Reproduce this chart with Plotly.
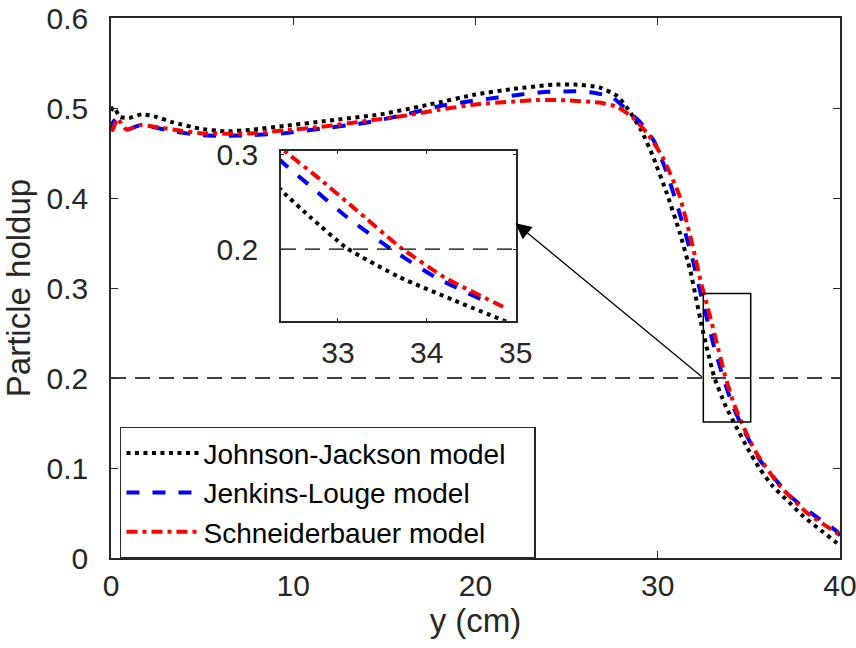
import plotly.graph_objects as go

# Johnson-Jackson model (black, dotted)
x_jj = [0, 0.15, 0.5, 1.0, 1.7, 2.5, 3.4, 4.9, 6.3, 7.8, 9.5, 12, 14.8, 17.5, 20,
        22, 24.3, 25.5, 26.8, 27.8, 28.5, 29.1, 29.7, 30.5, 31.2, 31.8, 32.4, 32.7,
        33.1, 33.7, 34.3, 34.9, 35.6, 36.3, 37.2, 38, 39, 39.8, 40]
y_jj = [0.497, 0.501, 0.490, 0.489, 0.493, 0.490, 0.484, 0.477, 0.474, 0.476, 0.480,
        0.486, 0.493, 0.504, 0.515, 0.521, 0.526, 0.526, 0.523, 0.513, 0.495, 0.475,
        0.448, 0.405, 0.362, 0.318, 0.259, 0.233, 0.201, 0.170, 0.146, 0.123, 0.099,
        0.080, 0.062, 0.046, 0.030, 0.017, 0.013]

# Jenkins-Louge model (blue, dashed)
x_jl = [0, 0.15, 0.4, 0.9, 1.6, 2.5, 3.4, 4.9, 6.3, 7.8, 9.5, 11.5, 13.8, 16, 18,
        19.5, 21, 22.5, 24, 25.5, 26.5, 27.5, 28.3, 29, 29.8, 30.5, 31.2, 31.9, 32.4,
        32.7, 33.1, 33.6, 34.1, 34.7, 35.6, 36.3, 37.1, 38, 38.9, 39.8, 40]
y_jl = [0.476, 0.486, 0.479, 0.476, 0.481, 0.478, 0.474, 0.470, 0.469, 0.470, 0.472,
        0.477, 0.483, 0.492, 0.502, 0.507, 0.511, 0.515, 0.518, 0.5185, 0.517, 0.512,
        0.498, 0.485, 0.463, 0.428, 0.383, 0.333, 0.290, 0.266, 0.234, 0.200, 0.170,
        0.143, 0.109, 0.091, 0.072, 0.056, 0.043, 0.030, 0.025]

# Schneiderbauer model (red, dash-dot)
x_sb = [0, 0.1, 0.35, 0.85, 1.6, 2.5, 3.4, 4.9, 6.3, 7.8, 9.5, 11.5, 13.8, 16, 18,
        20, 22, 23.5, 25, 26.8, 27.8, 28.6, 29.5, 30.3, 31.2, 31.9, 32.4, 32.8, 33.2,
        33.7, 34.2, 34.9, 35.4, 36.7, 38.2, 39.8, 40]
y_sb = [0.475, 0.476, 0.488, 0.476, 0.481, 0.479, 0.476, 0.472, 0.4715, 0.472, 0.475,
        0.479, 0.485, 0.491, 0.498, 0.504, 0.507, 0.509, 0.5085, 0.506, 0.501, 0.490,
        0.470, 0.444, 0.402, 0.348, 0.304, 0.274, 0.242, 0.202, 0.170, 0.137, 0.117,
        0.080, 0.050, 0.028, 0.025]

names = ["Johnson-Jackson model", "Jenkins-Louge model", "Schneiderbauer model"]
colors = ["#000000", "#0000ff", "#ff0000"]
dashes = ["4px,4.5px", "13px,13px", "11px,5px,4px,5px"]
series = [(x_jj, y_jj), (x_jl, y_jl), (x_sb, y_sb)]

holdup_ref = 0.2
main_x = [0, 40]
main_y = [0, 0.6]
inset_x = [32.36, 35]
inset_y = [0.124, 0.304]
inset_last = 34.9
zoom_box = [32.5, 35.1, 0.151, 0.294]

fnt = "Liberation Sans, Arial, Helvetica, sans-serif"
axcol = "#262626"
pad = "\u00a0" * 3   # a little room on the right of the legend text, like the original box

fig = go.Figure()

for (xs, ys), nm, c, d in zip(series, names, colors, dashes):
    fig.add_trace(go.Scatter(x=xs, y=ys, mode="lines", name=nm + pad,
                             line=dict(color=c, width=4, dash=d, shape="spline", smoothing=0.5),
                             xaxis="x", yaxis="y"))

# reference line in main axes
fig.add_trace(go.Scatter(x=main_x, y=[holdup_ref, holdup_ref], mode="lines",
                         line=dict(color="black", width=1.3, dash="15px,9px"),
                         showlegend=False, hoverinfo="skip", xaxis="x", yaxis="y"))

# inset: same data, zoomed
for (xs, ys), c, d in zip(series, colors, dashes):
    xi = [a for a in xs if a >= 31 and a <= inset_last]
    yi = [b for a, b in zip(xs, ys) if a >= 31 and a <= inset_last]
    fig.add_trace(go.Scatter(x=xi, y=yi, mode="lines", showlegend=False,
                             line=dict(color=c, width=4, dash=d, shape="spline", smoothing=0.5),
                             xaxis="x2", yaxis="y2"))
fig.add_trace(go.Scatter(x=inset_x, y=[holdup_ref, holdup_ref], mode="lines",
                         line=dict(color="black", width=1.3, dash="15px,9px"),
                         showlegend=False, hoverinfo="skip", xaxis="x2", yaxis="y2"))

# rectangle around the zoomed region
fig.add_shape(type="rect", xref="x", yref="y",
              x0=zoom_box[0], x1=zoom_box[1], y0=zoom_box[2], y1=zoom_box[3],
              line=dict(color="black", width=1.5), layer="above")

# arrow from box to inset
fig.add_annotation(x=22.2, y=0.372, ax=zoom_box[0], ay=holdup_ref,
                   xref="x", yref="y", axref="x", ayref="y",
                   showarrow=True, arrowhead=2, arrowsize=2.4, arrowwidth=1.3,
                   arrowcolor="black", text="")

axis_common = dict(showline=True, linecolor=axcol, linewidth=1.5, mirror="ticks",
                   ticks="inside", tickcolor=axcol, tickwidth=1, showgrid=False,
                   zeroline=False, automargin=False, ticklabeloverflow="allow",
                   tickfont=dict(family=fnt, size=30, color=axcol))

fig.update_layout(
    width=856, height=648,
    margin=dict(l=111, r=16, t=18, b=90),
    plot_bgcolor="white", paper_bgcolor="white",
    font=dict(family=fnt, color=axcol),
    xaxis=dict(axis_common, range=main_x, dtick=10, ticklen=7,
               title=dict(text="y (cm)", font=dict(family=fnt, size=33, color=axcol), standoff=4)),
    yaxis=dict(axis_common, range=main_y, dtick=0.1, ticklen=7,
               ticklabelstandoff=15,
               title=dict(text="Particle holdup", font=dict(family=fnt, size=33, color=axcol), standoff=8)),
    xaxis2=dict(axis_common, range=inset_x, tickvals=[33, 34, 35], ticklen=3,
                ticklabelstandoff=4, domain=[0.2332, 0.5551], anchor="y2"),
    yaxis2=dict(axis_common, range=inset_y, tickvals=[0.2, 0.3], ticklen=3,
                ticklabelstandoff=15, domain=[0.4392, 0.7538], anchor="x2"),
    legend=dict(x=0.0123, y=0.243, xanchor="left", yanchor="top",
                bgcolor="white", bordercolor=axcol, borderwidth=1.5,
                font=dict(family=fnt, size=28, color="black"), itemwidth=72),
    showlegend=True,
)

# drop the browser's default body margin so the figure sits at the page origin
fig.write_html("out.html", config={"displayModeBar": False},
               post_script="document.body.style.margin='0';")
